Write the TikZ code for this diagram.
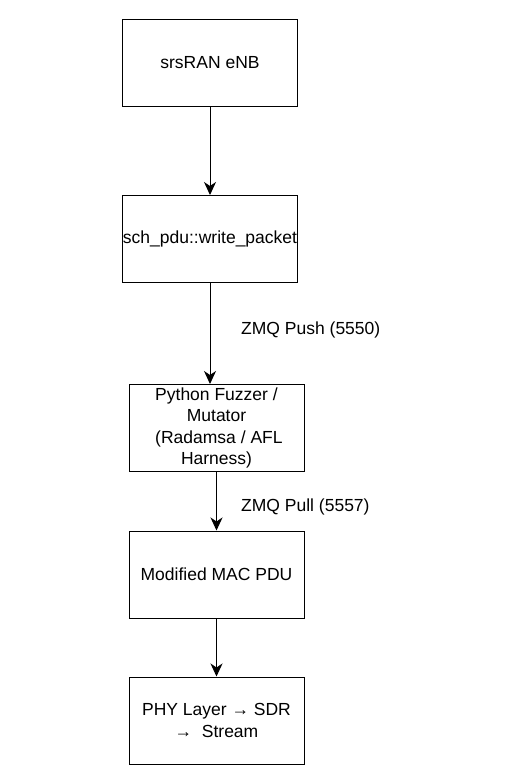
\documentclass[tikz,border=0pt]{standalone}
\usepackage{fontspec}
\setmainfont{Liberation Sans}
\usetikzlibrary{positioning,arrows.meta}

\tikzset{
  blk/.style={draw, line width=1pt, minimum width=175pt, minimum height=87pt, inner sep=0pt, align=center, font=\fontsize{17.5}{21.5}\selectfont},
  arr/.style={-{Stealth[length=13pt,width=12pt,inset=4pt]}, line width=1pt},
  lbl/.style={anchor=west, inner sep=0pt, font=\fontsize{17.5}{21.5}\selectfont}
}

\begin{document}
\begin{tikzpicture}[x=1pt, y=-1pt]
                    \useasboundingbox (0,0) rectangle (517,776);

                    % boxes
                    \node[blk] (enb) at (210,63) {srsRAN eNB};
                    \node[blk] (writer) at (210,239) {sch\_pdu::write\_packet};
                    \node[blk] (fuzzer) at (216.5,428) {Python Fuzzer /\\Mutator\\\ (Radamsa / AFL\\Harness)};
                    \node[blk] (macpdu) at (216.5,574.5) {Modified MAC PDU};
                    \node[blk] (phy) at (216.5,720.5) {PHY Layer \textrightarrow{} SDR\\\textrightarrow\ \ Stream};

                    % enb -> writer
                    \draw[arr] (enb.south) -- (writer.north);

                    % writer -> fuzzer
                    \draw[arr] (writer.south) -- (writer.south |- fuzzer.north);
                    \node[lbl] (push) at (241,330) {ZMQ Push (5550)};

                    % fuzzer -> mac
                    \draw[arr] (fuzzer.south) -- (macpdu.north);
                    \node[lbl] (pull) at (241,507) {ZMQ Pull (5557)};

                    % mac -> phy
                    \draw[arr] (macpdu.south) -- (phy.north);
                \end{tikzpicture}
\end{document}
